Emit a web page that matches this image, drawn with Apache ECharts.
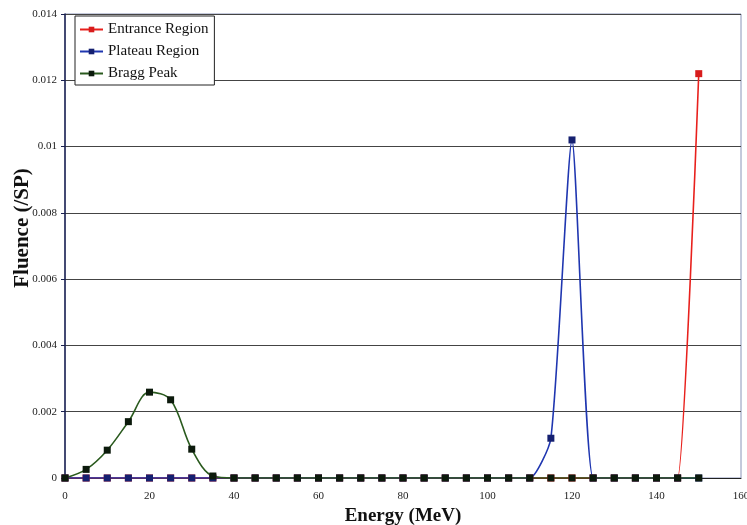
<!DOCTYPE html>
<html style="height: 100%">
<head>
  <meta charset="utf-8">
</head>
<body style="height: 100%; margin: 0; background: #fff">
  <div id="container" style="width: 747px; height: 525px"></div>
  <script type="text/javascript" src="https://fastly.jsdelivr.net/npm/echarts@6/dist/echarts.min.js"></script>
  <script type="text/javascript">
    const energy = [0, 5, 10, 15, 20, 25, 30, 35, 40, 45, 50, 55, 60, 65, 70, 75,
      80, 85, 90, 95, 100, 105, 110, 115, 120, 125, 130, 135, 140, 145, 150];
    const entrance = [0, 0, 0, 0, 0, 0, 0, 0, 0, 0, 0, 0, 0, 0, 0, 0,
      0, 0, 0, 0, 0, 0, 0, 0, 0, 0, 0, 0, 0, 0, 0.0122];
    const plateau = [0, 0, 0, 0, 0, 0, 0, 0, 0, 0, 0, 0, 0, 0, 0, 0,
      0, 0, 0, 0, 0, 0, 0, 0.0012, 0.0102, 0, 0, 0, 0, 0, 0];
    const bragg = [0, 0.00026, 0.00084, 0.0017, 0.00259, 0.00236, 0.00087, 0.00006, 0, 0, 0, 0, 0, 0, 0, 0,
      0, 0, 0, 0, 0, 0, 0, 0, 0, 0, 0, 0, 0, 0, 0];
    const yTicks = [0, 0.002, 0.004, 0.006, 0.008, 0.01, 0.012, 0.014];

    const font = 'Liberation Serif';

    function pairs(ys) {
      return energy.map((x, i) => [x, ys[i]]);
    }

    function line(name, ys, smooth, lineColor, markColor) {
      return {
        name: name,
        type: 'line',
        data: pairs(ys),
        smooth: smooth,
        symbol: 'rect',
        symbolSize: 7,
        lineStyle: { color: lineColor, width: 1.6 },
        itemStyle: { color: markColor },
        emphasis: { disabled: true }
      };
    }

    var dom = document.getElementById('container');
    var myChart = echarts.init(dom, null, { renderer: 'canvas' });

    var option = {
      animation: false,
      grid: {
        left: 65,
        right: 6,
        top: 14,
        bottom: 47,
        containLabel: false,
        outerBoundsMode: 'none',
        show: true,
        borderColor: '#8a94b8',
        borderWidth: 1
      },
      legend: {
        orient: 'vertical',
        left: 75,
        top: 16,
        itemWidth: 23,
        itemHeight: 7,
        itemGap: 7,
        padding: [6, 6, 4, 4],
        backgroundColor: '#fff',
        borderColor: '#222',
        borderWidth: 1,
        textStyle: { fontFamily: font, fontSize: 15, color: '#111' },
        data: ['Entrance Region', 'Plateau Region', 'Bragg Peak']
      },
      xAxis: {
        type: 'value',
        min: 0,
        max: 160,
        interval: 20,
        name: 'Energy (MeV)',
        nameLocation: 'middle',
        nameGap: 29,
        nameMoveOverlap: false,
        nameTextStyle: { fontFamily: font, fontSize: 19, fontWeight: 'bold', color: '#111' },
        axisLine: { lineStyle: { color: '#222', width: 1 } },
        axisTick: { show: false },
        axisLabel: { fontFamily: font, fontSize: 11, color: '#222', margin: 13 },
        splitLine: { show: false }
      },
      yAxis: {
        type: 'value',
        min: 0,
        max: 0.014,
        interval: 0.002,
        name: 'Fluence (/SP)',
        nameLocation: 'middle',
        nameGap: 32,
        nameMoveOverlap: false,
        nameTextStyle: {
          fontFamily: font,
          fontSize: 21,
          fontWeight: 'bold',
          color: '#111',
          padding: [0, 0, 0, 36]
        },
        axisLine: { show: true, lineStyle: { color: '#1a2050', width: 1.5 } },
        axisTick: { show: true, length: 4, lineStyle: { color: '#1a2050' } },
        axisLabel: {
          fontFamily: font,
          fontSize: 11,
          color: '#222',
          margin: 8,
          formatter: function (v) {
            const t = yTicks.find(k => Math.abs(k - v) < 1e-9);
            return String(t !== undefined ? t : v);
          }
        },
        splitLine: { lineStyle: { color: '#444', width: 1 } }
      },
      series: [
        line('Entrance Region', entrance, 0.15, '#e8201c', '#d81c1c'),
        line('Plateau Region', plateau, 0.2, '#1f36b0', '#152070'),
        line('Bragg Peak', bragg, 0.35, '#2a5a1e', '#0c1a0c')
      ]
    };

    myChart.setOption(option);
    window.addEventListener('resize', myChart.resize);
  </script>
</body>
</html>
